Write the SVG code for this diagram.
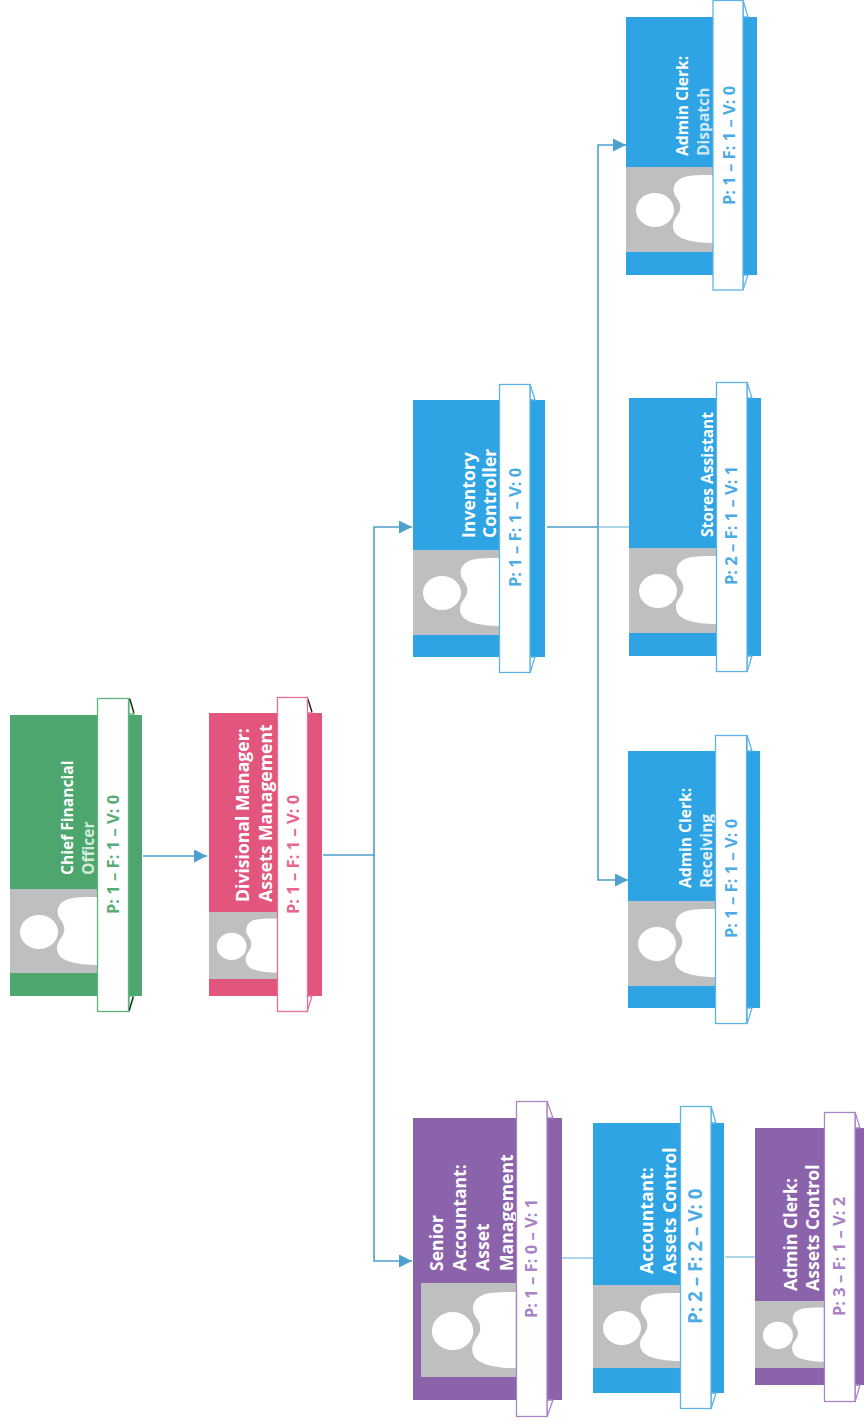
<svg xmlns="http://www.w3.org/2000/svg" xmlns:xlink="http://www.w3.org/1999/xlink" width="864" height="1424" viewBox="0 0 864 1424">
<style>
text{font-family:"Open Sans","Noto Sans",sans-serif;font-weight:700}
.t{font-size:17.600px;fill:#fff}
.m{font-size:15.600px;fill:#fff}
.s{font-size:16.500px}
.l{font-size:18.800px}
.g{fill:#4ea66f}.gt{fill:#fff;stroke:#62b47f}.gs{fill:#56ad75}
.p{fill:#e2557c}.pt{fill:#fff;stroke:#ea6f96}.ps{fill:#e8648c}
.b{fill:#2fa4e4}.bt{fill:#fff;stroke:#5fb3e6}.bs{fill:#4aace5}
.v{fill:#8b63ab}.vt{fill:#fff;stroke:#a985c6}.vs{fill:#a983c5}
.gray{fill:#bdbfc1}
.tab{stroke-width:1.3}
.c{fill:none;stroke:#4f9fcf;stroke-width:1.6}
.cp{fill:none;stroke:#8cc3de;stroke-width:1.4}
</style>
<defs>
<marker id="a" markerUnits="userSpaceOnUse" markerWidth="14" markerHeight="14" refX="13" refY="6.5" orient="auto"><path d="M0,0L13,6.5L0,13Z" fill="#4f9fcf"/></marker>
<g id="sil" fill="#fff">
<ellipse cx="29" cy="43" rx="19" ry="17"/>
<path d="M87,8C72,8 60,8 54,12C47,16 46,24 50,30C54,35 55,39 54,43C53,48 47,52 47,59C47,66 52,70 58,72C66,75 78,76 87,76Z"/>
</g>
</defs>
<g id="connectors">
<path class="c" d="M143,856H207" marker-end="url(#a)"/>
<path class="c" d="M323,855H374V527H412" marker-end="url(#a)"/>
<path class="c" d="M374,855V1261H412" marker-end="url(#a)"/>
<path class="c" d="M547,527H598V145H626" marker-end="url(#a)"/>
<path class="c" d="M598,527V880H628" marker-end="url(#a)"/>
<path class="cp" d="M598,527H629"/>
<path class="cp" d="M562,1258H593"/>
<path class="cp" d="M725,1257H755"/>
</g>
<g id="cfo">
<rect class="g" x="10" y="715" width="132" height="281"/>
<rect class="gray" x="10" y="889" width="87" height="84"/>
<use xlink:href="#sil" href="#sil" transform="translate(10,889)"/>
<text class="m" transform="translate(73,875) rotate(-90)">Chief Financial</text>
<text class="m" style="fill:#d3ecd9" transform="translate(94,875) rotate(-90)">Officer</text>
<path class="gt tab" d="M129,698L134,714H129Z"/><path class="gt tab" d="M129,1012L134,996H129Z"/>
<path d="M130,699L134,713M129,1011L133,997" stroke="#222" fill="none" stroke-width="1.2"/>
<rect class="gt tab" x="97.500" y="698.500" width="31" height="313"/>
<text class="s gs" transform="translate(119,914) rotate(-90)">P: 1 – F: 1 – V: 0</text>
</g>
<g id="divisional-manager">
<rect class="p" x="209" y="713" width="113" height="283"/>
<rect class="gray" x="209" y="912" width="68" height="67"/>
<use xlink:href="#sil" href="#sil" transform="translate(209,912) scale(.78,.8)"/>
<text class="t" transform="translate(249,902) rotate(-90)">Divisional Manager:</text>
<text class="t" transform="translate(272,902) rotate(-90)">Assets Management</text>
<path class="pt tab" d="M307,697L312,713H307Z"/><path class="pt tab" d="M307,1012L312,996H307Z"/>
<path d="M308,699L312,712" stroke="#222" fill="none" stroke-width="1.2"/>
<rect class="pt tab" x="277.500" y="697.500" width="30" height="314"/>
<text class="s ps" transform="translate(299,914) rotate(-90)">P: 1 – F: 1 – V: 0</text>
</g>
<g id="inventory-controller">
<rect class="b" x="413" y="400" width="132" height="257"/>
<rect class="gray" x="413" y="550" width="87" height="85"/>
<use xlink:href="#sil" href="#sil" transform="translate(413,550)"/>
<text class="t" transform="translate(475,538) rotate(-90)">Inventory</text>
<text class="t" transform="translate(496,538) rotate(-90)">Controller</text>
<path class="bt tab" d="M530,384L535,400H530Z"/><path class="bt tab" d="M530,673L535,657H530Z"/>
<rect class="bt tab" x="499.500" y="384.500" width="30.500" height="288"/>
<text class="s bs" transform="translate(521,587) rotate(-90)">P: 1 – F: 1 – V: 0</text>
</g>
<g id="stores-assistant">
<rect class="b" x="629" y="398" width="132" height="258"/>
<rect class="gray" x="629" y="548" width="87" height="85"/>
<use xlink:href="#sil" href="#sil" transform="translate(629,548)"/>
<text class="m" transform="translate(713,537) rotate(-90)">Stores Assistant</text>
<path class="bt tab" d="M747,382L752,398H747Z"/><path class="bt tab" d="M747,672L752,656H747Z"/>
<rect class="bt tab" x="716.500" y="382.500" width="30.500" height="289"/>
<text class="s bs" transform="translate(737,585) rotate(-90)">P: 2 – F: 1 – V: 1</text>
</g>
<g id="admin-clerk-dispatch">
<rect class="b" x="626" y="17" width="131" height="258"/>
<rect class="gray" x="626" y="167" width="87" height="85"/>
<use xlink:href="#sil" href="#sil" transform="translate(626,167)"/>
<text class="m" transform="translate(688,156) rotate(-90)">Admin Clerk:</text>
<text class="m" style="fill:#cfe9f8" transform="translate(709,156) rotate(-90)">Dispatch</text>
<path class="bt tab" d="M743,0L748,17H743Z"/><path class="bt tab" d="M743,290L748,275H743Z"/>
<rect class="bt tab" x="713" y="0.500" width="30" height="289.500"/>
<text class="s bs" transform="translate(735,205) rotate(-90)">P: 1 – F: 1 – V: 0</text>
</g>
<g id="admin-clerk-receiving">
<rect class="b" x="628" y="751" width="132" height="257"/>
<rect class="gray" x="628" y="901" width="87" height="85"/>
<use xlink:href="#sil" href="#sil" transform="translate(628,901)"/>
<text class="m" transform="translate(691,888) rotate(-90)">Admin Clerk:</text>
<text class="m" style="fill:#e3f2fb" transform="translate(712,888) rotate(-90)">Receiving</text>
<path class="bt tab" d="M747,735L752,751H747Z"/><path class="bt tab" d="M747,1024L752,1008H747Z"/>
<rect class="bt tab" x="715.500" y="735.500" width="31" height="288"/>
<text class="s bs" transform="translate(737,938) rotate(-90)">P: 1 – F: 1 – V: 0</text>
</g>
<g id="senior-accountant">
<rect class="v" x="413" y="1118" width="149" height="282"/>
<rect class="gray" x="421" y="1283" width="95" height="94"/>
<use xlink:href="#sil" href="#sil" transform="translate(421,1283) scale(1.09,1.12)"/>
<text class="t" transform="translate(443,1271) rotate(-90)">Senior</text>
<text class="t" transform="translate(466,1271) rotate(-90)">Accountant:</text>
<text class="t" transform="translate(489,1271) rotate(-90)">Asset</text>
<text class="t" transform="translate(513,1271) rotate(-90)">Management</text>
<path class="vt tab" d="M547,1101L553,1118H547Z"/><path class="vt tab" d="M547,1417L553,1400H547Z"/>
<rect class="vt tab" x="516.500" y="1101.500" width="30.500" height="315"/>
<text class="s vs" transform="translate(537,1318) rotate(-90)">P: 1 – F: 0 – V: 1</text>
</g>
<g id="accountant">
<rect class="b" x="593" y="1123" width="131" height="270"/>
<rect class="gray" x="593" y="1285" width="87" height="83"/>
<use xlink:href="#sil" href="#sil" transform="translate(593,1285)"/>
<text class="t" transform="translate(653,1274) rotate(-90)">Accountant:</text>
<text class="t" transform="translate(676,1274) rotate(-90)">Assets Control</text>
<path class="bt tab" d="M711,1106L716,1123H711Z"/><path class="bt tab" d="M711,1409L716,1393H711Z"/>
<rect class="bt tab" x="680.500" y="1106.500" width="30.500" height="302"/>
<text class="l bs" transform="translate(702,1324) rotate(-90)">P: 2 – F: 2 – V: 0</text>
</g>
<g id="admin-clerk-assets-control">
<rect class="v" x="755" y="1128" width="109" height="257"/>
<rect class="gray" x="755" y="1301" width="69" height="67"/>
<use xlink:href="#sil" href="#sil" transform="translate(755,1301) scale(.79,.8)"/>
<text class="t" transform="translate(797,1291) rotate(-90)">Admin Clerk:</text>
<text class="t" transform="translate(819,1291) rotate(-90)">Assets Control</text>
<path class="vt tab" d="M855,1112L860,1128H855Z"/><path class="vt tab" d="M855,1402L860,1385H855Z"/>
<rect class="vt tab" x="824.500" y="1112.500" width="30.500" height="289"/>
<text class="s vs" transform="translate(845,1316) rotate(-90)">P: 3 – F: 1 – V: 2</text>
</g>
</svg>
